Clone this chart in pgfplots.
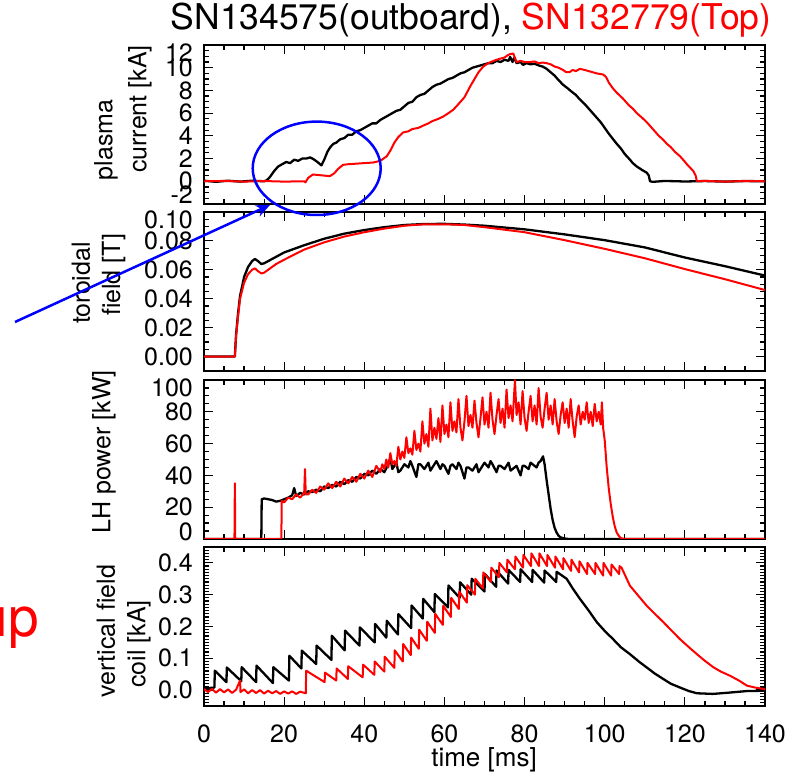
\documentclass[border=0pt]{standalone}
\usepackage{fontspec}
\setmainfont{TeX Gyre Heros}
\usepackage{pgfplots}
\pgfplotsset{compat=1.18}
\usetikzlibrary{arrows.meta}

\pgfplotsset{
 panel/.style={
  scale only axis, width=561pt, height=159pt, anchor=north west,
  xmin=0, xmax=140, xtick={0,20,...,140}, minor x tick num=3,
  tick align=inside, major tick length=9pt, minor tick length=5pt,
  axis line style={line width=1.6pt},
  tick style={black, line width=1.2pt},
  tick label style={font=\fontsize{25}{28}\selectfont},
  /pgf/number format/assume math mode=true,
  yticklabel style={inner sep=0pt, xshift=-11pt},
  xticklabel style={inner sep=0pt, yshift=-19pt},
 },
 blk/.style={black, line width=2.3pt, line join=round},
 rd/.style={red, line width=2pt, line join=round},
}

\begin{document}
\begin{tikzpicture}
\useasboundingbox (0pt,0pt) rectangle (786pt,775pt);

% ---------- Panel 1: plasma current ----------
\begin{axis}[panel, at={(204pt,730pt)}, xticklabels={},
  ymin=-2, ymax=12, ytick={-2,0,2,4,6,8,10,12},
  yticklabels={,0,2,4,6,8,10,}, minor y tick num=3]
\addplot[blk] coordinates {(0,0.05)(3,-0.05)(6,0.05)(9,-0.03)(12,0.05)(15,0)(15.7,0.1)(16.5,0.4)(17.5,0.9)(18.5,1.3)(19.5,1.5)(20.5,1.7)(21.5,1.6)(22.5,1.9)(23.5,1.8)(24.5,2.0)(25.5,2.0)(26.5,2.1)(27.3,1.95)(28.3,1.7)(29.3,1.4)(30,1.9)(30.8,2.6)(31.5,3.0)(32.3,3.3)(33,3.4)(34,3.7)(35,3.8)(36,4.1)(37,4.1)(38,4.4)(39,4.5)(40,4.7)(41,4.9)(42,5.1)(43,5.1)(44,5.4)(45,5.6)(46,5.8)(47,6.0)(48,6.2)(49,6.3)(50,6.6)(51,6.9)(52,7.0)(53,7.4)(54,7.6)(55,7.7)(56,8.0)(57,8.3)(58,8.5)(59,8.6)(60,8.8)(61,9.0)(62,9.1)(63,9.3)(64,9.5)(65,9.6)(66,9.8)(67,10.0)(68,10.1)(69,10.2)(70,10.3)(71,10.4)(72,10.4)(73,10.6)(74,10.5)(75,10.7)(76,10.6)(76.4,10.95)(77,10.5)(77.5,10.9)(78,10.4)(79,10.5)(79.6,10.25)(80.5,10.4)(81.5,10.3)(82.5,10.35)(83.5,10.2)(84.5,10.1)(85.5,9.9)(86.5,9.6)(87.5,9.3)(88.5,8.9)(89.6,8.5)(90.7,8.2)(91.7,7.9)(92.8,7.6)(93.8,7.2)(95,6.8)(96,6.4)(97,6.0)(98,5.6)(99,5.2)(100,4.7)(101,4.2)(102.1,3.7)(103,3.3)(104,2.9)(105,2.4)(106.3,1.9)(107,1.6)(108,1.3)(109.3,1.0)(110.5,0.75)(111,0.5)(111.3,0)(112,-0.05)(115,0.03)(120,-0.02)(125,0.02)(130,-0.03)(135,0.02)(140,0)};
\addplot[rd] coordinates {(0,0)(5,0.03)(10,-0.03)(15,0.02)(20,-0.03)(25,0)(25.3,-0.1)(26,0.3)(27.2,0.6)(28.5,0.55)(30,0.5)(31.4,0.45)(32.5,0.7)(33.5,1.1)(34.7,1.45)(36,1.5)(38,1.55)(40,1.6)(42.2,1.65)(44,1.8)(45.6,2.2)(46.5,2.7)(47.5,3.4)(48.5,3.9)(49.7,4.3)(51,4.4)(52,4.6)(53.5,4.7)(54.7,4.9)(56,5.1)(57,5.3)(58.5,5.5)(59.7,5.7)(61,6.0)(62.2,6.3)(63,6.6)(64,7.0)(65,7.4)(65.6,7.8)(66.5,8.4)(67.5,9.0)(68.5,9.6)(69.7,10.1)(70.5,10.3)(71.5,10.5)(72.3,10.6)(73,10.7)(74,10.8)(75,10.9)(75.8,11.1)(76.4,11.2)(77.2,11.25)(77.6,10.8)(78,10.5)(79,10.6)(80,10.5)(81.4,10.5)(82.5,10.55)(83.5,10.4)(84.5,10.45)(85.5,10.4)(86.5,10.3)(87.5,10.1)(88.5,10.0)(89.6,9.8)(90.4,9.6)(91.2,9.6)(92,9.8)(92.8,9.7)(93.8,9.9)(95,9.8)(96,9.7)(97,9.6)(98,9.5)(99.6,9.4)(100.3,9.2)(101,8.7)(102,8.2)(103,7.8)(104.5,7.3)(106,6.7)(107,6.4)(108,6.0)(109.3,5.6)(110.5,5.2)(111.5,4.8)(112.5,4.4)(113.5,4.0)(114.6,3.65)(115.5,3.3)(116.5,3.0)(117.5,2.6)(118.8,2.2)(119.8,1.8)(120.5,1.5)(121.3,1.2)(122.1,0.9)(122.7,0.5)(123,0)(125,0.03)(130,-0.03)(135,0.02)(140,0)};
\end{axis}

% ---------- Panel 2: toroidal field ----------
\begin{axis}[panel, at={(204pt,563pt)}, xticklabels={},
  ymin=-0.01, ymax=0.10, ytick={0,0.02,0.04,0.06,0.08,0.10},
  yticklabels={0.00,0.02,0.04,0.06,0.08,}, minor y tick num=3]
\addplot[blk] coordinates {(0,0)(7.7,0)(8.0,0.015)(8.5,0.03)(9,0.042)(10,0.055)(11,0.062)(12,0.066)(12.7,0.0675)(13.5,0.066)(14.3,0.064)(15,0.0645)(16,0.066)(18,0.069)(20,0.072)(25,0.077)(30,0.0815)(35,0.085)(40,0.0875)(45,0.0895)(50,0.091)(55,0.0917)(60,0.0918)(65,0.0913)(70,0.0905)(80,0.088)(90,0.0845)(100,0.0805)(110,0.0755)(120,0.0685)(130,0.0625)(140,0.056)};
\addplot[rd] coordinates {(0,0)(7.7,0)(8.0,0.014)(8.5,0.028)(9,0.04)(10,0.051)(11,0.057)(12,0.06)(12.7,0.061)(13.5,0.059)(14.3,0.0575)(15,0.058)(16,0.06)(18,0.064)(20,0.067)(25,0.074)(30,0.079)(35,0.083)(40,0.086)(45,0.0885)(50,0.0905)(55,0.0915)(60,0.0915)(65,0.091)(70,0.0895)(80,0.086)(90,0.0805)(100,0.0745)(110,0.068)(120,0.0605)(130,0.0535)(140,0.046)};
\end{axis}

% ---------- Panel 3: LH power ----------
\begin{axis}[panel, at={(204pt,395pt)}, xticklabels={},
  ymin=0, ymax=100, ytick={0,20,40,60,80,100},
  yticklabels={,20,40,60,80,}, minor y tick num=3]
\addplot[blk] coordinates {(0,0)(14.3,0)(14.4,25)(15,25.5)(16,25)(17,24.5)(18,23.5)(19,24)(20,25)(21,26)(22,27.5)(22.5,32)(23,27)(24,29)(25,28)(26,30)(27,29.5)(28,31)(29,30)(30,33)(31,32)(32,34)(33,33)(34,36)(35,34.5)(36,37)(37,36)(38,39)(39,38)(40,41)(41,40)(42,43)(43,41)(44,44)(45,42)(46,47)(46.5,51)(47,44)(48,48)(48.5,42)(49,43)(50,47)(51,45)(51.5,49)(52,46)(53,39)(53.5,47)(54,47)(55,44)(56,48)(56.5,43)(57,45)(58,49)(59,44)(59.5,47)(60,46)(61,41)(61.5,46)(62,47)(63,44)(63.5,48)(64,46)(65,38)(65.5,45)(66,45)(67,43)(68,47)(68.5,42)(69,44)(70,48)(71,45)(71.5,49)(72,47)(73,42)(73.5,46)(74,46)(75,44)(76,48)(76.5,43)(77,44)(78,46)(79,40)(79.5,46)(80,46)(81,44)(81.5,48)(82,47)(83,45)(83.5,48)(84,49)(84.6,52)(85,47)(85.5,37)(86,28)(86.5,19)(87,12)(87.5,7)(88,4)(88.5,2)(89,1)(90,0.3)(91,0)(140,0)};
\addplot[rd] coordinates {(0,0)(7.6,0)(7.7,35)(7.8,0)(19.3,0)(19.4,24)(20,23)(21,26)(22,25)(23,28)(24,26)(25,29)(25.2,44)(25.4,28)(26,28)(27,31)(28,29)(29,33)(30,31)(31,35)(32,32)(33,36)(34,33)(35,38)(36,35)(37,39)(38,36)(39,41)(40,38)(41,43)(42,39)(43,46)(44,42)(44.5,47)(45,44)(45.5,50)(46,45)(46.5,54)(47,47)(47.5,49)(48,46)(48.5,58)(49,50)(49.5,55)(50,51)(50.5,64)(51,54)(51.5,57)(52,53)(52.5,68)(53,56)(53.5,60)(54,55)(54.5,74)(55,60)(55.5,66)(56,58)(56.5,82)(57,62)(57.5,70)(58,63)(58.5,76)(59,61)(59.5,84)(60,66)(60.5,72)(61,64)(61.5,86)(62,68)(62.5,74)(63,67)(63.5,88)(64,70)(64.5,62)(65,74)(65.5,90)(66,71)(66.5,78)(67,70)(67.5,87)(68,73)(68.5,64)(69,76)(69.5,89)(70,72)(70.5,80)(71,70)(71.5,92)(72,75)(72.5,66)(73,78)(73.5,88)(74,73)(74.5,82)(75,70)(75.5,94)(76,76)(76.5,84)(77,74)(77.6,100)(78,78)(78.5,86)(79,72)(79.5,93)(80,76)(80.5,68)(81,80)(81.5,90)(82,74)(82.5,84)(83,72)(83.5,95)(84,77)(84.5,70)(85,82)(85.5,92)(86,75)(86.5,84)(87,72)(87.5,88)(88,74)(88.5,66)(89,78)(89.5,86)(90,73)(90.5,82)(91,70)(91.5,88)(92,74)(92.5,64)(93,77)(93.5,84)(94,72)(94.5,80)(95,75)(95.5,86)(96,73)(96.5,80)(97,71)(97.5,85)(98,74)(98.5,80)(99,72)(99.3,86)(99.6,70)(100,62)(100.5,45)(101,32)(101.5,22)(102,14)(102.5,8)(103,4)(103.5,2)(104,0.5)(105,0)(140,0)};
\end{axis}

% ---------- Panel 4: vertical field coil ----------
\begin{axis}[panel, at={(204pt,228pt)},
  ymin=-0.05, ymax=0.45, ytick={0,0.1,0.2,0.3,0.4},
  yticklabels={0.0,0.1,0.2,0.3,0.4}, minor ytick={-0.04,-0.03,...,0.45}]
\addplot[blk] coordinates {(0,0.005)(2.6,0.008)(2.7,0.061)(5.6,0.025)(5.7,0.071)(9.3,0.028)(9.4,0.072)(13.0,0.025)(13.1,0.077)(17.2,0.022)(17.3,0.072)(21.2,0.03)(21.3,0.108)(24.3,0.068)(24.4,0.124)(28.0,0.082)(28.1,0.14)(31.8,0.095)(31.9,0.171)(35.1,0.125)(35.2,0.187)(38.8,0.14)(38.9,0.197)(42.6,0.15)(42.7,0.208)(45.5,0.165)(45.6,0.218)(48.4,0.175)(48.5,0.239)(51.7,0.195)(51.8,0.266)(54.6,0.225)(54.7,0.287)(57.5,0.245)(57.6,0.302)(60.9,0.26)(61.0,0.329)(63.8,0.29)(63.9,0.339)(66.7,0.30)(66.8,0.35)(70.0,0.31)(70.1,0.365)(72.9,0.325)(73.0,0.376)(75.9,0.335)(76.0,0.378)(78.9,0.34)(79.0,0.38)(81.9,0.34)(82.0,0.378)(84.9,0.338)(85.0,0.376)(87.9,0.34)(88.0,0.372)(90.5,0.35)(92,0.32)(93.8,0.287)(96,0.25)(98,0.214)(100,0.186)(102.1,0.16)(104,0.135)(106.3,0.113)(108.5,0.09)(110.5,0.071)(112.5,0.052)(114.6,0.035)(116.5,0.02)(118.8,0.008)(121,-0.003)(123,-0.01)(127,-0.012)(131,-0.008)(135.5,-0.003)(140,-0.002)};
\addplot[rd] coordinates {(0,0.003)(1,-0.006)(2,0.004)(3,-0.008)(4,0.003)(5,-0.007)(6,0.002)(7,-0.009)(8,0.001)(9,0.03)(9.1,-0.006)(10,0.002)(11,-0.01)(12,0.0)(13,-0.009)(14,0.0)(15,-0.011)(16,-0.002)(17,-0.01)(18,-0.003)(19,-0.012)(20,-0.004)(21,-0.011)(22,-0.004)(23,-0.012)(24,-0.005)(25.4,-0.01)(25.5,0.061)(30.1,0.025)(30.2,0.055)(33.0,0.03)(33.1,0.068)(35.9,0.035)(36.0,0.075)(39.6,0.04)(39.7,0.08)(42.5,0.048)(42.6,0.09)(45.0,0.058)(45.1,0.105)(47.5,0.07)(47.6,0.125)(49.6,0.09)(49.7,0.145)(51.6,0.11)(51.7,0.165)(53.6,0.13)(53.7,0.19)(55.6,0.155)(55.7,0.215)(57.6,0.18)(57.7,0.24)(59.6,0.205)(59.7,0.265)(61.6,0.23)(61.7,0.29)(63.6,0.255)(63.7,0.31)(65.6,0.275)(65.7,0.33)(67.6,0.30)(67.7,0.35)(69.6,0.32)(69.7,0.37)(71.6,0.34)(71.7,0.385)(73.6,0.355)(73.7,0.40)(75.6,0.37)(75.7,0.41)(77.6,0.38)(77.7,0.42)(79.6,0.385)(79.7,0.425)(81.6,0.39)(81.7,0.43)(83.6,0.39)(83.7,0.43)(85.6,0.39)(85.7,0.425)(87.6,0.385)(87.7,0.42)(89.6,0.38)(89.7,0.415)(91.6,0.375)(91.7,0.41)(93.6,0.37)(93.7,0.405)(95.6,0.365)(95.7,0.40)(97.6,0.365)(97.7,0.40)(99.6,0.36)(99.7,0.40)(101.6,0.36)(101.7,0.395)(103.6,0.365)(103.7,0.39)(104.2,0.385)(106.3,0.328)(108.5,0.295)(110.5,0.265)(112.5,0.24)(114.6,0.214)(116.7,0.187)(118.8,0.16)(121,0.135)(123,0.113)(125,0.092)(127.1,0.072)(129,0.058)(131.3,0.045)(133.5,0.03)(135.5,0.014)(137.5,0.008)(140,0.003)};
\end{axis}

% ---------- end tick labels shifted inward ----------
\begin{scope}[every node/.style={anchor=east, inner sep=0pt, font=\fontsize{25}{28}\selectfont}]
\node at (193pt,722pt) {12};
\node at (193pt,580pt) {-2};
\node at (193pt,555pt) {0.10};
\node at (193pt,387pt) {100};
\node at (193pt,243pt) {0};
\end{scope}

% ---------- axis labels ----------
\begin{scope}[every node/.style={rotate=90, inner sep=0pt, font=\fontsize{25}{28}\selectfont}]
\node at (106pt,635pt) {plasma};
\node at (140pt,666pt) {current [kA]};
\node at (81pt,492pt) {toroidal};
\node at (113.5pt,500pt) {field [T]};
\node at (104pt,323pt) {LH power [kW]};
\node at (106pt,144pt) {vertical field};
\node at (139pt,131pt) {coil [kA]};
\end{scope}
\node[inner sep=0pt, font=\fontsize{26}{28}\selectfont] at (484pt,15pt) {time [ms]};

% ---------- title ----------
\node[anchor=base, inner sep=0pt, font=\fontsize{35.5}{38}\selectfont] at (471pt,745pt) {SN134575(outboard), \textcolor{red}{SN132779(Top)}};

% ---------- annotations ----------
\draw[blue, line width=2.5pt] (316.7pt,606.7pt) ellipse [x radius=64pt, y radius=46.7pt];
\draw[blue, line width=2.5pt, -{Stealth[length=14pt,width=12pt]}] (15pt,453pt) -- (270pt,570pt);
\node[red, anchor=base west, inner sep=0pt, font=\fontsize{55}{60}\selectfont] at (-22.6pt,138pt) {up};
\end{tikzpicture}
\end{document}
